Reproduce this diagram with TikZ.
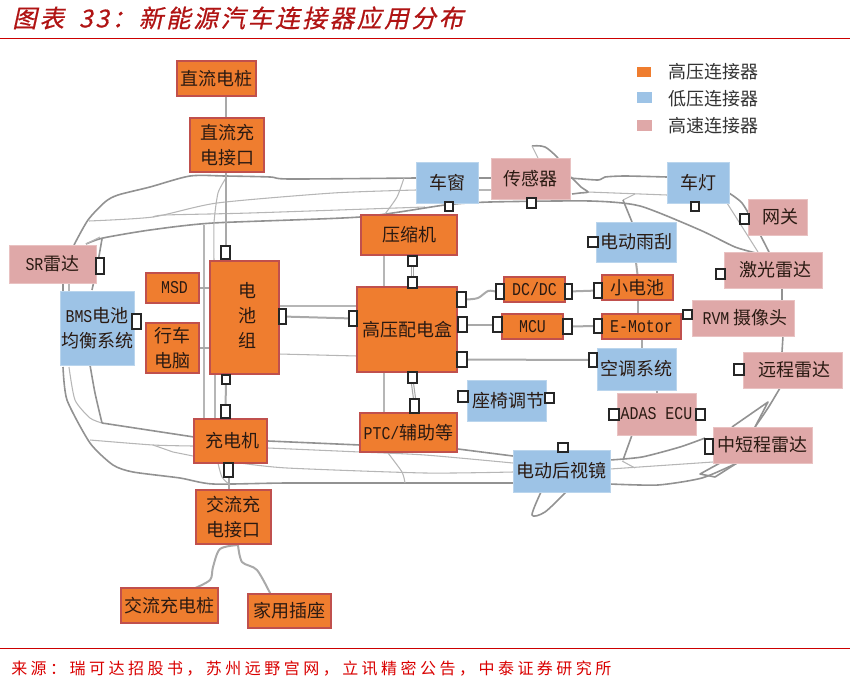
\documentclass[tikz,border=0pt]{standalone}
\usepackage{fontspec}
\setmainfont{Noto Sans CJK SC}
\newfontfamily\titlefont[FakeSlant=0.22,FakeBold=0.6,LetterSpace=10.5]{Noto Sans CJK SC}
\newfontfamily\srcfont[LetterSpace=21.7]{Noto Sans CJK SC}
\newfontfamily\latfont[FakeStretch=0.83]{Liberation Mono}
\usetikzlibrary{backgrounds}
\definecolor{orangebox}{HTML}{EF7D2F}
\definecolor{orangeline}{HTML}{C0504D}
\definecolor{bluebox}{HTML}{9DC3E6}
\definecolor{pinkbox}{HTML}{DFA8A8}
\definecolor{wirec}{HTML}{A9A9A9}
\definecolor{bodyc}{HTML}{929292}
\definecolor{titlered}{HTML}{B01414}
\definecolor{inkc}{HTML}{2A1A12}
\tikzset{
 hv/.style={fill=orangebox,draw=orangeline,line width=0.9pt,text=inkc},
 lv/.style={fill=bluebox,draw=bluebox!70!white,line width=0.5pt,text=inkc},
 hs/.style={fill=pinkbox,draw=pinkbox!70!white,line width=0.5pt,text=inkc},
 pin/.style={fill=white,draw=black!85,line width=0.9pt},
 wire/.style={draw=wirec,line width=1.5pt},
 thinwire/.style={draw=wirec,line width=0.8pt},
 body/.style={draw=bodyc,line width=1.2pt,line join=round},
 thinbody/.style={draw=wirec!85!white,line width=0.8pt,line join=round},
 every node/.append style={font=\fontsize{13.5pt}{19pt}\selectfont},
}
\newcommand\bx[7]{\pgfmathsetmacro\ww{(#4-#2)*0.75}\pgfmathsetmacro\hh{(#5-#3)*0.75}%
 \node[#6,minimum width=\ww pt,minimum height=\hh pt,inner sep=0pt,align=center] (#1) at ({(#2+#4)/2},{(#3+#5)/2}) {#7};}
\newcommand\pn[5]{\pgfmathsetmacro\ww{(#4-#2)*0.75}\pgfmathsetmacro\hh{(#5-#3)*0.75}%
 \node[pin,minimum width=\ww pt,minimum height=\hh pt,inner sep=0pt] (#1) at ({(#2+#4)/2},{(#3+#5)/2}) {};}
\newcommand\la[1]{{\latfont #1}}
\newcommand\dn[1]{\raisebox{-2.5pt}{#1}}
\begin{document}
\begin{tikzpicture}[x=0.75pt,y=-0.75pt]
\useasboundingbox (0,0) rectangle (850,689);
% header / footer
\node[text=titlered,anchor=west,inner sep=0pt,font=\fontsize{18.5pt}{20pt}\titlefont] (title) at (12,18) {图表\hspace*{5pt} 33：新能源汽车连接器应用分布};
\coordinate (tl) at (0,38.5); \coordinate (tr) at (850,38.5);
\draw[draw=red!80!black,line width=0.8pt] (tl) -- (tr);
\coordinate (fl) at (0,648.5); \coordinate (fr) at (850,648.5);
\draw[draw=red!80!black,line width=0.8pt] (fl) -- (fr);
\node[text=red!85!black,anchor=west,inner sep=0pt,font=\fontsize{12pt}{14pt}\srcfont] (source) at (11,669) {来源：瑞可达招股书，苏州远野宫网，立讯精密公告，中泰证券研究所};
% legend
\bx{lega}{637}{67}{651}{77}{fill=orangebox}{}
\bx{legb}{637}{92}{652}{103}{fill=bluebox}{}
\bx{legc}{637}{120}{652}{131}{fill=pinkbox}{}
\node[anchor=west,inner sep=0pt,text=black!80,font=\fontsize{13.5pt}{16pt}\selectfont] (lta) at (668,72) {高压连接器};
\node[anchor=west,inner sep=0pt,text=black!80,font=\fontsize{13.5pt}{16pt}\selectfont] (ltb) at (668,99) {低压连接器};
\node[anchor=west,inner sep=0pt,text=black!80,font=\fontsize{13.5pt}{16pt}\selectfont] (ltc) at (668,126) {高速连接器};
% boxes
\bx{dcpile}{177}{61}{256}{96}{hv}{直流电桩}
\bx{dcport}{190}{118}{264}{172}{hv}{直流充\\电接口}
\bx{sr}{9}{245}{96}{283}{hs}{\la{SR}雷达}
\bx{bms}{60}{291}{134}{365}{lv}{\la{BMS}电池\\均衡系统}
\bx{msd}{146}{273}{199}{303}{hv}{\dn{\hspace*{3pt}\la{MSD}}}
\bx{pc}{146}{323}{199}{373}{hv}{行车\\电脑}
\bx{bat}{210}{261}{279}{374}{hv}{\raisebox{-3.5pt}{\hspace*{4.4pt}\begin{tabular}{@{}c@{}}电\\池\\组\end{tabular}}}
\bx{chg}{194}{419}{267}{463}{hv}{\hspace*{3pt}充电机}
\bx{acport}{196}{490}{271}{544}{hv}{交流充\\电接口}
\bx{acpile}{121}{588}{218}{623}{hv}{交流充电桩}
\bx{home}{248}{594}{331}{628}{hv}{家用插座}
\bx{comp}{361}{215}{457}{255}{hv}{压缩机}
\bx{hvbox}{357}{287}{457}{372}{hv}{高压配电盒}
\bx{ptc}{360}{413}{457}{452}{hv}{\la{PTC/}辅助等}
\bx{win}{416}{162}{478}{203}{lv}{车窗}
\bx{sens}{491}{158}{570}{199}{hs}{传感器}
\bx{lamp}{667}{162}{729}{203}{lv}{\dn{车灯}}
\bx{gw}{748}{199}{807}{235}{hs}{\hspace*{4pt}网关}
\bx{lidar}{724}{252}{822}{288}{hs}{\dn{\hspace*{4pt}激光雷达}}
\bx{rvm}{692}{300}{794}{336}{hs}{\hspace*{3pt}\la{RVM} 摄像头}
\bx{lrr}{743}{352}{842}{388}{hs}{\hspace*{3pt}远程雷达}
\bx{srr}{713}{427}{812}{463}{hs}{\dn{中短程雷达}}
\bx{wiper}{596}{222}{676}{262}{lv}{电动雨刮}
\bx{lbat}{602}{275}{673}{300}{hv}{小电池}
\bx{dcdc}{504}{277}{565}{302}{hv}{\la{DC/DC}}
\bx{mcu}{502}{314}{563}{339}{hv}{\la{MCU}}
\bx{motor}{602}{314}{681}{339}{hv}{\la{E-Motor}}
\bx{ac}{597}{348}{676}{390}{lv}{空调系统}
\bx{seat}{467}{380}{546}{421}{lv}{\dn{\hspace*{3pt}座椅调节}}
\bx{adas}{617}{393}{696}{435}{hs}{\la{ADAS ECU}}
\bx{mirror}{513}{450}{610}{492}{lv}{电动后视镜}
% connector pins
\pn{pbatT}{221}{246}{230}{259}
\pn{psr}{96}{258}{104}{274}
\pn{pbms}{132}{314}{141}{329}
\pn{pbatR}{279}{309}{286}{324}
\pn{phvL}{349}{311}{357}{326}
\pn{pcomp}{408}{256}{417}{266}
\pn{phvT}{408}{277}{417}{288}
\pn{pbatB}{222}{375}{230}{384}
\pn{pchgT}{221}{405}{230}{418}
\pn{pchgB}{224}{463}{233}{477}
\pn{phvB}{408}{372}{417}{383}
\pn{pptc}{410}{399}{419}{413}
\pn{pwin}{445}{202}{453}{211}
\pn{psens}{527}{198}{536}{208}
\pn{plamp}{691}{202}{699}{211}
\pn{pgw}{740}{214}{749}{224}
\pn{plidar}{716}{269}{725}{279}
\pn{prvm}{683}{310}{692}{319}
\pn{pwiper}{588}{237}{598}{247}
\pn{pdcL}{496}{284}{504}{299}
\pn{pdcR}{565}{284}{572}{299}
\pn{plbat}{594}{283}{602}{298}
\pn{phvRa}{457}{292}{466}{307}
\pn{phvRb}{458}{317}{467}{332}
\pn{pmcuL}{493}{317}{502}{332}
\pn{pmcuR}{563}{319}{572}{334}
\pn{pmot}{594}{319}{602}{333}
\pn{phvRc}{457}{352}{467}{367}
\pn{pac}{589}{353}{597}{367}
\pn{pseatL}{458}{391}{468}{402}
\pn{pseatR}{545}{393}{554}{403}
\pn{padasL}{609}{409}{619}{420}
\pn{padasR}{696}{409}{705}{420}
\pn{pmir}{558}{443}{568}{452}
\pn{psrr}{705}{439}{713}{454}
\pn{plrr}{734}{364}{744}{375}
\begin{scope}[on background layer]
% car body outline
\draw[body] plot[smooth,tension=0.45] coordinates {(74,245) (88,220) (105,202) (118,195) (150,187) (190,176) (225,176) (270,177) (290,179) (416,178)};
\draw[body] (478,178) -- (491,178);
\draw[thinbody] (478,190) -- (491,190);
\draw[thinbody] plot[smooth,tension=0.4] coordinates {(89,221) (153,217) (217,203) (333,193) (416,190)};
\draw[thinbody] plot[smooth,tension=0.4] coordinates {(153,217) (165,215) (250,213) (425,207)};
\draw[body] plot[smooth,tension=0.4] coordinates {(86,244) (103,238) (150,230) (213,223) (360,217) (445,205) (490,202) (590,201) (640,206) (700,230) (735,247) (760,254)};
\draw[body] plot[smooth,tension=0.4] coordinates {(570,178) (598,180) (605,177) (625,176) (667,177)};
\draw[thinbody] (588,192) -- (667,195);
\draw[body] plot[smooth,tension=0.4] coordinates {(571,177) (581,187) (588,192) (580,193) (572,194)};
\draw[thinbody] (635,194) -- (623,200);
\draw[body] (623,200) -- (632,222);
\draw[body] plot[smooth,tension=0.6] coordinates {(532,146) (545,147) (558,158)};
\draw[thinbody] (532,146) -- (538,158);
\draw[body] plot[smooth,tension=0.4] coordinates {(729,193) (742,203) (755,225) (769,252)};
\draw[thinbody] (727,203) -- (758,252);
\draw[body] (782,288) -- (782,300);
\draw[body] (783,336) -- (782,352);
\draw[body] plot[smooth,tension=0.4] coordinates {(780,388) (768,408) (755,427)};
\draw[body] plot[smooth,tension=0.4] coordinates {(610,460) (642,457) (680,447) (705,438)};
\draw[body] (732,427) -- (768,402) -- (755,427);
\draw[body] plot[smooth,tension=0.4] coordinates {(610,484) (658,485) (702,478) (737,463)};
\draw[body] (720,463) -- (700,474) -- (715,477) -- (737,463);
\draw[thinbody] (610,469) -- (713,462);
\draw[thinbody] (622,461) -- (635,468);
\draw[body] (632,435) -- (623,460);
\draw[body] plot[smooth,tension=0.5] coordinates {(541,492) (532,515) (545,512) (566,492)};
\draw[body] (63,283) -- (63,291);
\draw[thinbody] (69,283) -- (69,291);
\draw[body] plot[smooth,tension=0.4] coordinates {(102,239) (97,267) (92,290)};
\draw[thinbody] (86,244) -- (100,237);
\draw[body] plot[smooth,tension=0.4] coordinates {(63,367) (67,400) (90,443) (113,465) (133,472) (180,478) (213,484) (287,483) (425,483) (513,483)};
\draw[thinbody] plot[smooth,tension=0.4] coordinates {(69,367) (75,400) (90,418) (102,423)};
\draw[body] plot[smooth,tension=0.4] coordinates {(90,365) (95,393) (102,423)};
\draw[body] (102,423) -- (194,437);
\draw[body] (268,441) -- (360,445);
\draw[body] (458,449) -- (513,456);
\draw[thinbody] plot[smooth,tension=0.4] coordinates {(90,440) (153,445) (193,446)};
\draw[thinbody] (153,445) -- (173,452) -- (193,456);
\draw[thinbody] plot[smooth,tension=0.4] coordinates {(268,448) (360,452) (425,455) (513,463)};
\draw[thinbody] plot[smooth,tension=0.4] coordinates {(240,463) (287,468) (425,473) (513,472)};
\draw[thinbody] plot[smooth,tension=0.4] coordinates {(388,453) (402,472) (405,483)};
\draw[thinbody] plot[smooth,tension=0.4] coordinates {(385,214) (397,197) (404,178)};
\draw[thinbody] (384,255) -- (384,287);
\draw[thinbody] (384,372) -- (384,413);
\draw[thinbody] (204,225) -- (204,419);
\draw[thinbody] plot[smooth,tension=0.4] coordinates {(226,178) (218,193) (214,223) (214,261)};
\draw[thinbody] (215,375) -- (215,419);
\draw[thinbody] plot[smooth,tension=0.5] coordinates {(218,463) (222,477) (230,485)};
\draw[thinbody] (279,306) -- (357,306);
\draw[thinbody] (279,354) -- (357,356);
% connectors between named parts
\draw[wire] (dcpile.south -| pbatT) -- (dcport.north -| pbatT);
\draw[wire] (dcport.south -| pbatT) -- (pbatT.north);
\draw[wire] (pbatR) -- (phvL);
\draw[thinwire] ([xshift=-0.8pt]pcomp.south) -- ([xshift=-0.8pt]phvT.north);
\draw[thinwire] ([xshift=0.8pt]pcomp.south) -- ([xshift=0.8pt]phvT.north);
\draw[thinwire] ([xshift=-0.8pt]phvB.south) -- ([xshift=-0.8pt]pptc.north);
\draw[thinwire] ([xshift=0.8pt]phvB.south) -- ([xshift=0.8pt]pptc.north);
\draw[wire] (pbatB) -- (pchgT);
\draw[wire] (msd.east) -- (msd.east -| bat.west);
\draw[wire] (pc.east) -- (pc.east -| bat.west);
\draw[wire] (pchgB.south) -- (acport.north -| pchgB);
\draw[wire] plot[smooth,tension=0.5] coordinates {(phvRa.east) (478,298) (488,291) (pdcL.west)};
\draw[wire] (phvRb) -- (pmcuL);
\draw[wire] (pmcuR) -- (pmot);
\draw[wire] (pdcR) -- (plbat);
\draw[wire] (phvRc) -- (pac);
\draw[wire] (wiper.south) -- (lbat.north);
\draw[wire] (lbat.south) -- (lbat.south |- motor.north);
\draw[wire] (motor.north |- motor.south) -- (motor.north |- ac.north);
\draw[wire] (ac.south -| adas.north) -- (adas.north);
\draw[wire] plot[smooth,tension=0.5] coordinates {(238,545) (220,549) (213,567) (210,580) (193,589)};
\draw[wire] plot[smooth,tension=0.5] coordinates {(238,545) (242,562) (257,570) (271,595)};
\end{scope}
\end{tikzpicture}
\end{document}
